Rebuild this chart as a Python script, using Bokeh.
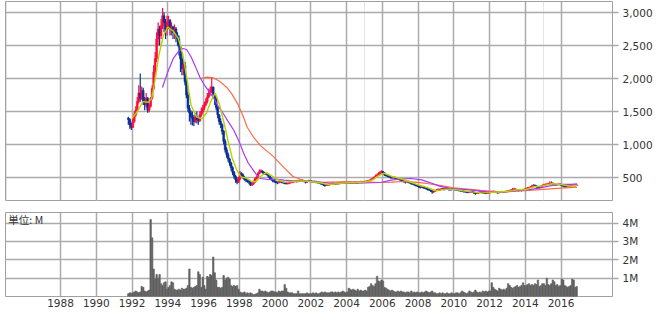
from bokeh.plotting import figure
from bokeh.layouts import column
from bokeh.models import Range1d, FixedTicker, NumeralTickFormatter, Grid, Label, ColumnDataSource
from bokeh.embed import file_html
from bokeh.resources import INLINE

START_YEAR, START_MONTH = 1991, 10
FIRST_OPEN = 1400

close = [
    1380, 1300, 1260,
    1350, 1450, 1520, 1650, 1780, 1700, 1820, 1650, 1600, 1700, 1520, 1580,
    1700, 1850, 2100, 2300, 2600, 2750, 2650, 2800, 2950, 2850, 2750, 2850,
    2880, 2750, 2780, 2700, 2750, 2650, 2600, 2480, 2300, 2150, 2200, 1950,
    1750, 1550, 1480, 1420, 1400, 1350, 1420, 1380, 1360, 1450, 1500, 1550,
    1600, 1650, 1720, 1780, 1820, 1870, 1760, 1700, 1560, 1450, 1350, 1300,
    1200, 1050, 920, 850, 780, 720, 650, 580, 520, 470, 430, 480,
    560, 540, 500, 470, 460, 440, 430, 390, 400, 430, 480, 500,
    560, 590, 600, 580, 560, 560, 550, 520, 490, 470, 450, 440,
    430, 420, 430, 440, 430, 420, 415, 410, 410, 420, 430, 430,
    440, 445, 440, 450, 455, 460, 450, 445, 430, 440, 450, 445,
    440, 435, 440, 430, 425, 420, 410, 400, 390, 380, 385, 390,
    395, 400, 410, 405, 400, 405, 410, 415, 420, 425, 420, 425,
    425, 430, 425, 420, 425, 430, 420, 425, 430, 435, 430, 435,
    440, 445, 450, 455, 470, 480, 500, 520, 540, 560, 575, 590,
    570, 540, 530, 520, 510, 500, 495, 500, 490, 485, 480, 470,
    460, 450, 440, 430, 440, 430, 420, 410, 400, 390, 380, 370,
    360, 350, 355, 345, 340, 330, 320, 310, 300, 280, 290, 300,
    310, 320, 315, 325, 330, 320, 325, 330, 320, 315, 320, 325,
    320, 315, 310, 305, 300, 295, 290, 285, 280, 275, 280, 285,
    280, 270, 260, 265, 270, 280, 275, 270, 265, 260, 265, 270,
    275, 280, 290, 285, 275, 270, 275, 280, 285, 280, 285, 290,
    295, 300, 310, 320, 325, 315, 310, 305, 310, 305, 315, 320,
    330, 340, 345, 355, 370, 380, 375, 360, 355, 350, 365, 380,
    390, 395, 400, 405, 410, 415, 400, 395, 390, 395, 400, 390,
    380, 370, 365, 360, 365, 370, 375, 380, 385, 380, 385,
]

high = [
    1420, 1400, 1330,
    1400, 1500, 1580, 1720, 1900, 2075, 1880, 1860, 1720, 1780, 1720, 1620,
    1720, 1900, 2200, 2400, 2700, 2850, 2800, 2900, 3070, 3000, 2900, 2950,
    2950, 2900, 2850, 2800, 2820, 2780, 2700, 2650, 2500, 2400, 2300, 2250,
    2000, 1800, 1600, 1520, 1500, 1450, 1480, 1500, 1420, 1500, 1560, 1600,
    1650, 1700, 1780, 1850, 1880, 2020, 1880, 1760, 1720, 1580, 1460, 1400,
    1320, 1220, 1080, 960, 880, 800, 740, 670, 600, 540, 500, 510,
    600, 580, 560, 520, 490, 470, 460, 440, 420, 450, 500, 520,
    580, 620, 625, 610, 590, 580, 575, 560, 525, 500, 480, 460,
    450, 440, 445, 455, 450, 440, 430, 425, 425, 435, 445, 450,
    455, 460, 460, 465, 470, 475, 470, 460, 450, 455, 465, 460,
    460, 450, 455, 450, 440, 435, 425, 415, 405, 395, 400, 405,
    410, 415, 425, 420, 415, 420, 425, 430, 435, 440, 440, 440,
    440, 445, 440, 435, 440, 445, 440, 440, 445, 450, 445, 450,
    455, 460, 465, 470, 490, 500, 520, 545, 560, 580, 600, 610,
    600, 580, 555, 545, 530, 520, 510, 515, 510, 500, 495, 490,
    480, 470, 460, 450, 455, 450, 440, 430, 420, 410, 400, 390,
    380, 365, 370, 360, 355, 345, 335, 325, 315, 305, 305, 315,
    325, 335, 330, 340, 345, 335, 340, 345, 335, 330, 335, 340,
    335, 330, 325, 320, 315, 310, 305, 300, 295, 290, 295, 300,
    295, 290, 280, 280, 285, 295, 290, 285, 280, 275, 280, 285,
    290, 295, 305, 300, 290, 285, 290, 295, 300, 295, 300, 305,
    310, 315, 325, 340, 345, 335, 325, 320, 325, 320, 330, 335,
    345, 355, 360, 370, 390, 400, 395, 380, 370, 365, 380, 395,
    405, 410, 415, 420, 440, 445, 425, 410, 405, 410, 415, 410,
    395, 390, 380, 375, 380, 385, 390, 395, 400, 395, 400,
]

low = [
    1300, 1240, 1220,
    1250, 1330, 1420, 1500, 1620, 1650, 1680, 1600, 1520, 1560, 1480, 1490,
    1560, 1680, 1820, 2050, 2250, 2500, 2500, 2600, 2750, 2700, 2600, 2650,
    2750, 2650, 2650, 2600, 2600, 2550, 2500, 2350, 2100, 2050, 2050, 1900,
    1700, 1500, 1350, 1300, 1290, 1280, 1330, 1320, 1300, 1340, 1420, 1470,
    1520, 1580, 1620, 1700, 1740, 1780, 1700, 1600, 1520, 1400, 1300, 1250,
    1150, 1000, 880, 800, 740, 680, 600, 540, 480, 420, 400, 420,
    460, 510, 480, 450, 430, 420, 400, 370, 370, 390, 420, 470,
    490, 550, 570, 560, 540, 540, 530, 500, 470, 450, 430, 420,
    415, 400, 410, 420, 415, 405, 400, 395, 395, 400, 415, 415,
    420, 430, 425, 430, 440, 445, 435, 430, 410, 420, 435, 430,
    425, 420, 425, 415, 410, 405, 395, 385, 370, 360, 370, 375,
    375, 385, 395, 390, 385, 390, 395, 400, 405, 410, 405, 410,
    410, 415, 410, 405, 410, 415, 405, 410, 415, 420, 415, 420,
    425, 430, 435, 440, 450, 465, 475, 495, 515, 535, 555, 565,
    550, 525, 515, 505, 495, 485, 480, 485, 475, 470, 465, 455,
    445, 435, 420, 410, 425, 415, 405, 390, 385, 375, 365, 355,
    345, 335, 340, 330, 325, 315, 305, 295, 280, 255, 270, 285,
    295, 305, 300, 310, 315, 305, 310, 315, 305, 300, 305, 310,
    305, 300, 295, 290, 285, 280, 275, 270, 265, 260, 265, 270,
    265, 250, 240, 250, 255, 265, 260, 255, 250, 245, 250, 255,
    260, 265, 275, 270, 260, 255, 260, 265, 270, 265, 270, 275,
    280, 285, 295, 305, 310, 300, 295, 290, 295, 290, 300, 305,
    315, 325, 330, 340, 350, 365, 360, 345, 340, 335, 345, 360,
    375, 380, 385, 390, 395, 400, 385, 380, 375, 380, 385, 375,
    365, 355, 350, 345, 350, 355, 360, 365, 370, 365, 370,
]

# monthly volume, millions of shares
volume = [
    0.15, 0.2, 0.18,
    0.2, 0.25, 0.3, 0.25, 0.2, 0.25, 0.55, 0.5, 0.3, 0.25, 0.3, 0.35,
    4.2, 3.2, 1.5, 0.95, 1.2, 1.0, 1.2, 0.7, 0.6, 0.75, 0.8, 0.4,
    0.5, 0.6, 0.8, 0.75, 0.4, 0.35, 0.35, 0.4, 0.35, 0.45, 0.4, 0.4,
    0.45, 0.6, 1.5, 0.5, 0.45, 0.5, 0.55, 0.6, 1.35, 1.2, 0.5, 1.05,
    0.6, 0.4, 1.1, 1.05, 1.2, 1.15, 2.15, 1.3, 0.9, 0.5, 0.5, 0.45,
    0.5, 1.15, 0.9, 1.0, 1.05, 0.95, 0.6, 0.55, 0.6, 0.55, 0.6, 0.4,
    0.25, 0.2, 0.2, 0.25, 0.15, 0.2, 0.15, 0.2, 0.15, 0.1, 0.12, 0.15,
    0.2, 0.4, 0.3, 0.3, 0.25, 0.3, 0.25, 0.2, 0.25, 0.3, 0.3, 0.25,
    0.25, 0.2, 0.3, 0.25, 0.3, 0.3, 0.65, 0.45, 0.25, 0.2, 0.2, 0.2,
    0.15, 0.15, 0.15, 0.3, 0.15, 0.15, 0.15, 0.15, 0.15, 0.2, 0.15, 0.15,
    0.15, 0.2, 0.15, 0.2, 0.15, 0.15, 0.2, 0.25, 0.2, 0.25, 0.2, 0.2,
    0.2, 0.25, 0.25, 0.2, 0.25, 0.2, 0.25, 0.2, 0.25, 0.3, 0.25, 0.2,
    0.25, 0.45, 0.4, 0.35, 0.4, 0.35, 0.3, 0.4, 0.3, 0.35, 0.3, 0.3,
    0.35, 0.3, 0.5, 0.55, 0.7, 0.6, 0.55, 0.7, 1.1, 0.85, 0.8, 0.9,
    0.85, 0.5, 0.45, 0.4, 0.35, 0.3, 0.35, 0.3, 0.25, 0.25, 0.3, 0.25,
    0.3, 0.25, 0.25, 0.2, 0.25, 0.25, 0.2, 0.3, 0.2, 0.25, 0.2, 0.25,
    0.2, 0.2, 0.25, 0.2, 0.25, 0.3, 0.25, 0.2, 0.25, 0.3, 0.2, 0.2,
    0.15, 0.15, 0.2, 0.15, 0.2, 0.15, 0.15, 0.2, 0.15, 0.15, 0.2, 0.15,
    0.15, 0.2, 0.2, 0.15, 0.2, 0.3, 0.25, 0.2, 0.15, 0.2, 0.3, 0.25,
    0.2, 0.25, 0.35, 0.25, 0.2, 0.25, 0.2, 0.3, 0.25, 0.3, 0.25, 0.3,
    0.3, 0.75, 0.5, 0.4, 0.35, 0.3, 0.45, 0.4, 0.35, 0.4, 0.35, 0.45,
    0.7, 0.6, 0.5, 0.45, 0.5, 0.55, 0.6, 0.5, 0.55, 0.6, 0.75, 0.6,
    0.6, 0.65, 0.7, 0.6, 0.65, 0.6, 0.7, 0.65, 0.9, 0.55, 0.6, 0.7,
    0.7, 0.6, 1.0, 0.65, 0.6, 0.7, 0.9, 0.8, 0.6, 0.65, 0.55, 0.6,
    0.95, 0.9, 0.6, 0.55, 0.5, 0.55, 0.6, 0.95, 0.9, 0.5, 0.55,
]

# moving averages (decimal year, price)
ma_short_x = [1992.0, 1992.3, 1992.6, 1992.9, 1993.1, 1993.3, 1993.5, 1993.75, 1994.0, 1994.3,
              1994.6, 1994.85, 1995.1, 1995.3, 1995.6, 1995.9, 1996.15, 1996.4, 1996.65, 1996.9,
              1997.1, 1997.35, 1997.6, 1997.85, 1998.1, 1998.4, 1998.7, 1998.95, 1999.2, 1999.5,
              1999.8, 2000.1, 2000.5, 2001.0, 2001.5, 2002.0, 2002.5, 2003.0, 2003.5, 2004.0,
              2004.5, 2005.0, 2005.4, 2005.8, 2006.1, 2006.5, 2007.0, 2007.5, 2008.0, 2008.5,
              2009.0, 2009.5, 2010.0, 2010.5, 2011.0, 2011.5, 2012.0, 2012.5, 2013.0, 2013.5,
              2014.0, 2014.5, 2015.0, 2015.5, 2016.0, 2016.5, 2016.9]
ma_short_y = [1400, 1500, 1650, 1640, 1700, 2000, 2350, 2650, 2780, 2720,
              2600, 2350, 1950, 1600, 1420, 1390, 1470, 1650, 1780, 1600,
              1380, 1080, 800, 620, 510, 490, 440, 440, 520, 575,
              530, 470, 430, 440, 450, 440, 420, 395, 405, 420,
              425, 432, 455, 530, 565, 520, 485, 440, 390, 350,
              300, 320, 320, 300, 282, 268, 272, 280, 288, 315,
              315, 360, 375, 405, 395, 368, 380]

ma_mid_x = [1993.7, 1994.0, 1994.3, 1994.6, 1994.85, 1995.05, 1995.3, 1995.55, 1995.8, 1996.1,
            1996.35, 1996.55, 1996.8, 1997.1, 1997.4, 1997.7, 1998.0, 1998.25, 1998.5, 1998.8,
            1999.0, 1999.2, 1999.6, 2000.0, 2000.5, 2001.0, 2002.0, 2003.0, 2004.0, 2005.0,
            2005.9, 2006.5, 2007.0, 2007.6, 2008.2, 2008.7, 2009.2, 2009.8, 2010.5, 2011.0,
            2011.5, 2012.0, 2012.5, 2013.0, 2013.5, 2014.0, 2014.7, 2015.5, 2016.0, 2016.55, 2016.9]
ma_mid_y = [1865, 2100, 2300, 2410, 2455, 2440, 2330, 2180, 2015, 1880,
            1790, 1712, 1590, 1470, 1340, 1212, 1040, 864, 720, 606,
            530, 485, 470, 475, 460, 450, 445, 415, 410, 420,
            425, 460, 478, 485, 465, 420, 370, 335, 320, 310,
            295, 278, 275, 285, 300, 310, 335, 380, 395, 395, 405]

ma_long_x = [1995.8, 1996.2, 1996.5, 1996.9, 1997.3, 1997.6, 1997.9, 1998.2, 1998.45, 1998.8,
             1999.2, 1999.9, 2000.5, 2001.0, 2001.6, 2002.4, 2003.0, 2004.0, 2005.0, 2005.9,
             2006.5, 2007.2, 2007.8, 2008.5, 2009.2, 2010.0, 2010.8, 2011.5, 2012.2, 2013.0,
             2014.0, 2015.0, 2016.0, 2016.9]
ma_long_y = [2000, 2020, 2015, 1960, 1865, 1760, 1620, 1440, 1258, 1110,
             980, 820, 650, 515, 455, 425, 430, 435, 435, 425,
             430, 440, 430, 410, 380, 345, 325, 305, 290, 285,
             300, 320, 340, 355]

year_ticks = list(range(1988, 2017, 2))
price_ticks = [500, 1000, 1500, 2000, 2500, 3000]
volume_ticks = [1, 2, 3, 4]
volume_labels = ["1M", "2M", "3M", "4M"]

# ---- derived positions ----
n = len(close)
xs, opens = [], []
y, m = START_YEAR, START_MONTH
prev = FIRST_OPEN
for i in range(n):
    xs.append(y + (m - 0.5) / 12.0)
    opens.append(prev)
    prev = close[i]
    m += 1
    if m > 12:
        m = 1
        y += 1

up = [c >= o for o, c in zip(opens, close)]
UP_COL, DN_COL = "#ff0a3c", "#0a2f96"
src = ColumnDataSource(dict(
    x=xs,
    top=[max(o, c) for o, c in zip(opens, close)],
    bottom=[min(o, c) for o, c in zip(opens, close)],
    high=[max(h, o, c) for h, o, c in zip(high, opens, close)],
    low=[min(l, o, c) for l, o, c in zip(low, opens, close)],
    color=[UP_COL if u else DN_COL for u in up],
))
vsrc = ColumnDataSource(dict(x=xs[:len(volume)], v=volume))

XR = Range1d(1984.92, 2018.88)
GRID_COL = "#ababab"
FONT = "DejaVu Sans"


def style(p):
    p.outline_line_color = "#a0a0a0"
    p.outline_line_width = 1
    p.background_fill_color = "white"
    p.border_fill_color = "white"
    p.ygrid.grid_line_color = GRID_COL
    p.ygrid.grid_line_width = 1.5
    for ax in p.yaxis:
        ax.axis_line_color = None
        ax.major_tick_out = 6
        ax.major_tick_in = 0
        ax.major_tick_line_color = GRID_COL
        ax.major_tick_line_width = 1.5
        ax.minor_tick_line_color = None
        ax.major_label_standoff = 4
        ax.major_label_text_font = FONT
        ax.major_label_text_font_size = "10.5px"
        ax.major_label_text_color = "#333333"


p1 = figure(frame_width=607, frame_height=199, x_range=XR, y_range=Range1d(152, 3167),
            output_backend="svg", toolbar_location=None, y_axis_location="right",
            x_axis_location=None, min_border_left=5, min_border_top=1,
            min_border_bottom=6, min_border_right=0)
style(p1)
p1.yaxis.ticker = FixedTicker(ticks=price_ticks)
p1.yaxis.formatter = NumeralTickFormatter(format="0,0")
p1.add_layout(Grid(dimension=0, ticker=FixedTicker(ticks=year_ticks),
                   grid_line_color=GRID_COL, grid_line_width=1.5), "center")

p1.segment(x0="x", y0="low", x1="x", y1="high", color="color", line_width=1.2, source=src)
p1.vbar(x="x", width=0.1, top="top", bottom="bottom", fill_color="color",
        line_color="color", line_width=0.6, source=src)
p1.line(ma_long_x, ma_long_y, line_color="#ff6a45", line_width=1.2)
p1.line(ma_mid_x, ma_mid_y, line_color="#a838ff", line_width=1.2)
p1.line(ma_short_x, ma_short_y, line_color="#b4d400", line_width=1.4)

p2 = figure(frame_width=607, frame_height=84, x_range=XR, y_range=Range1d(0, 4.58),
            output_backend="svg", toolbar_location=None, y_axis_location="right",
            min_border_left=5, min_border_top=6, min_border_bottom=0, min_border_right=0)
style(p2)
p2.yaxis.ticker = FixedTicker(ticks=volume_ticks)
p2.yaxis.major_label_overrides = {t: l for t, l in zip(volume_ticks, volume_labels)}
p2.xaxis.ticker = FixedTicker(ticks=year_ticks)
p2.xgrid.grid_line_color = GRID_COL
p2.xgrid.grid_line_width = 1.5
xa = p2.xaxis[0]
xa.axis_line_color = None
xa.major_tick_line_color = None
xa.major_tick_out = 0
xa.major_tick_in = 0
xa.minor_tick_line_color = None
xa.minor_tick_out = 0
xa.major_label_standoff = 2
xa.major_label_text_font = FONT
xa.major_label_text_font_size = "10.5px"
xa.major_label_text_color = "#333333"

p2.vbar(x="x", width=1 / 12.0, top="v", bottom=0, fill_color="#616161",
        line_color="#616161", line_width=0.6, source=vsrc)
p2.add_layout(Label(x=1985.08, y=4.6, text="単位: M", text_baseline="top",
                    text_font="Noto Sans CJK JP", text_font_size="10.5px",
                    text_color="#333333"))

layout = column(p1, p2, spacing=0)
open("out.html", "w").write(file_html(layout, INLINE))
